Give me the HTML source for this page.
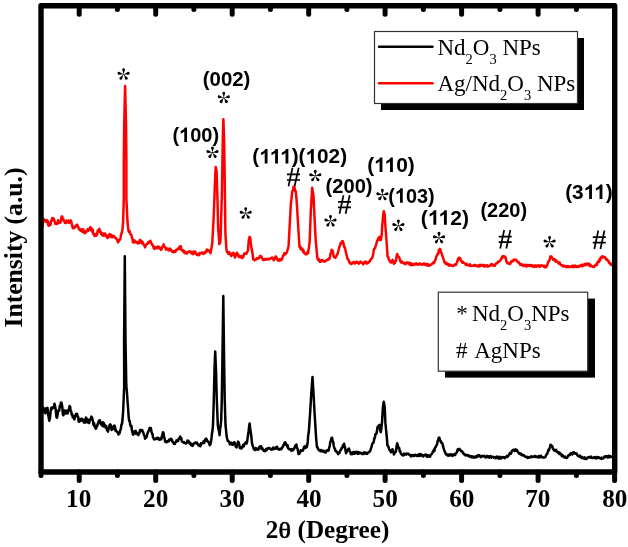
<!DOCTYPE html>
<html><head><meta charset="utf-8"><style>
html,body{margin:0;padding:0;background:#fff;}
body{width:628px;height:547px;overflow:hidden;}
svg{display:block;will-change:transform;}
</style></head><body>
<svg width="628" height="547" viewBox="0 0 628 547">
<rect width="628" height="547" fill="#fff"/>
<polyline points="41.5,219.0 42.2,228.0 42.9,219.4 43.4,218.6 44.0,220.3 44.5,219.9 45.0,220.8 45.5,221.6 46.1,222.0 46.7,220.0 47.2,222.2 47.7,221.0 48.2,225.4 48.8,223.9 49.3,225.8 49.9,223.1 50.5,224.8 51.0,221.0 51.6,221.0 52.2,218.0 52.7,218.6 53.2,220.0 53.8,218.6 54.3,220.8 54.8,222.1 55.4,223.8 56.0,223.1 56.5,223.7 57.0,224.2 57.5,223.3 58.1,220.2 58.6,221.5 59.2,223.0 59.9,222.6 60.5,222.5 61.1,219.6 61.6,216.4 62.2,216.5 62.8,219.4 63.3,218.9 63.9,221.2 64.4,221.5 65.0,223.0 65.5,222.2 66.1,222.9 66.6,220.5 67.2,220.8 67.8,222.1 68.4,220.6 68.9,222.7 69.5,222.5 70.1,220.8 70.6,220.3 71.2,221.7 71.7,223.4 72.2,225.8 72.8,228.3 73.3,226.6 73.9,228.0 74.4,228.0 75.0,226.5 75.6,226.7 76.1,225.5 76.7,224.7 77.3,224.7 77.8,226.1 78.3,227.0 78.9,229.3 79.4,228.7 80.0,229.6 80.5,230.8 81.0,230.6 81.6,229.4 82.2,231.8 82.7,230.9 83.3,229.4 83.8,232.6 84.4,231.6 85.0,233.2 85.5,232.8 86.0,231.3 86.6,230.8 87.1,231.3 87.7,229.0 88.2,231.1 88.7,229.4 89.3,229.5 89.9,228.1 90.4,227.1 91.0,230.0 91.6,228.4 92.2,231.8 92.8,229.8 93.3,234.0 93.9,234.1 94.5,235.9 95.0,234.3 95.5,234.4 96.1,235.8 96.6,234.4 97.1,234.7 97.7,230.5 98.2,231.6 98.8,230.1 99.4,228.9 99.9,232.1 100.5,231.2 101.0,233.9 101.6,233.0 102.2,235.1 102.8,233.6 103.3,235.7 103.9,233.4 104.5,234.4 105.1,233.6 105.7,236.2 106.2,234.9 106.8,236.2 107.4,238.0 108.0,237.1 108.5,237.2 109.1,235.0 109.6,234.0 110.2,235.1 110.8,236.6 111.4,234.7 111.9,237.2 112.5,237.2 113.1,235.9 113.7,235.9 114.3,236.6 114.8,237.2 115.4,238.1 116.0,238.0 116.5,239.1 117.0,239.6 117.5,240.6 118.0,242.4 118.5,241.6 119.0,240.7 119.5,239.6 120.0,239.7 120.5,238.0 121.0,235.1 121.5,233.3 122.0,232.0 122.5,228.9 123.1,222.0 123.8,199.0 123.8,160.0 124.2,124.0 125.1,86.0 126.0,124.0 126.4,160.0 126.4,199.0 127.5,222.0 128.0,226.6 128.5,231.0 129.0,232.1 129.6,230.9 130.1,233.3 130.6,234.5 131.4,235.1 131.9,237.8 132.4,238.3 132.9,242.3 133.5,242.5 134.0,242.5 134.6,240.4 135.1,242.2 135.7,241.6 136.3,241.8 136.9,242.7 137.4,242.0 138.0,243.4 138.6,243.0 139.2,243.2 139.7,240.3 140.2,239.9 140.8,240.8 141.3,241.9 141.9,243.4 142.4,241.6 142.9,243.0 143.4,243.9 144.0,245.4 144.6,245.7 145.1,247.3 145.6,246.0 146.1,244.9 146.7,244.2 147.2,243.7 147.8,243.5 148.3,242.0 148.8,241.7 149.4,241.6 149.9,242.8 150.4,240.8 151.0,242.9 151.5,243.0 152.1,245.0 152.6,244.9 153.1,245.9 153.7,248.0 154.3,248.9 154.8,247.2 155.4,247.1 155.9,247.8 156.5,248.0 157.1,248.4 157.7,246.5 158.2,247.0 158.8,246.9 159.4,247.3 159.9,248.8 160.4,248.2 161.0,249.9 161.5,249.4 162.1,247.2 162.6,246.4 163.1,246.1 163.7,244.4 164.2,246.8 164.8,246.8 165.3,247.3 165.8,249.4 166.4,248.3 166.9,249.5 167.4,248.5 168.0,249.4 168.6,250.3 169.2,250.4 169.7,248.5 170.3,248.8 170.9,249.4 171.5,250.9 172.0,251.0 172.6,252.0 173.1,251.3 173.7,252.3 174.3,250.9 174.9,250.9 175.4,251.9 176.0,250.0 176.6,250.2 177.1,249.3 177.6,249.0 178.1,248.6 178.7,248.1 179.2,249.2 179.7,246.4 180.2,247.0 180.8,246.2 181.3,249.6 181.9,250.0 182.4,251.0 183.0,250.2 183.6,250.6 184.2,252.6 184.7,253.1 185.3,251.7 185.9,253.0 186.5,253.4 187.1,253.4 187.6,252.6 188.2,251.9 188.8,251.6 189.3,251.3 189.8,251.8 190.3,251.8 190.9,251.6 191.4,253.3 191.9,252.8 192.4,253.7 193.0,254.1 193.5,251.6 194.1,253.5 194.6,252.6 195.2,251.6 195.8,253.5 196.4,254.1 196.9,254.8 197.5,254.7 198.1,255.2 198.7,253.5 199.3,255.0 199.8,253.0 200.4,252.9 201.0,253.0 201.5,253.3 202.0,252.8 202.5,252.4 203.0,252.5 203.5,253.9 204.0,253.2 204.5,252.6 205.0,253.2 205.6,251.3 206.2,251.8 206.8,249.6 207.4,249.8 208.1,251.0 208.7,250.5 209.3,251.0 209.9,251.5 210.5,253.2 211.1,249.7 211.7,246.9 212.3,242.3 213.8,214.8 215.1,178.3 215.7,167.0 216.6,171.0 217.4,196.6 218.2,229.5 218.8,235.6 219.3,244.1 219.9,243.2 220.5,240.4 221.8,196.6 222.3,170.0 222.8,140.0 223.4,119.3 224.1,140.0 224.6,170.0 224.9,196.0 225.4,233.1 226.4,248.9 226.9,251.4 227.4,252.3 227.9,252.7 228.5,253.9 229.2,252.0 229.8,253.7 230.4,254.7 231.1,255.9 231.7,255.6 232.3,253.5 232.8,253.1 233.4,252.7 233.9,253.7 234.5,256.0 235.0,257.5 235.6,255.7 236.3,254.2 236.9,252.7 237.5,254.9 238.2,254.3 238.8,257.0 239.4,256.0 240.0,256.3 240.6,256.5 241.2,257.5 241.8,256.1 242.5,258.0 243.1,256.5 243.6,256.5 244.1,253.6 244.6,253.7 245.2,253.7 245.9,253.2 246.5,253.7 247.2,251.7 247.9,250.8 248.4,244.6 248.9,239.3 249.6,236.9 250.3,238.4 250.8,243.2 251.3,247.0 252.0,251.0 252.7,254.6 253.2,259.4 253.9,259.5 254.6,260.3 255.2,259.3 255.9,259.3 256.5,259.4 257.1,258.0 257.8,258.6 258.4,258.0 259.0,258.2 259.6,257.0 260.2,255.8 260.8,256.5 261.4,256.6 262.0,257.9 262.6,259.3 263.2,259.9 263.8,260.2 264.5,259.0 265.1,258.9 265.7,259.7 266.3,259.4 266.8,259.0 267.4,259.0 268.0,259.4 268.6,259.1 269.2,259.4 269.8,258.5 270.4,258.4 271.0,258.6 271.7,257.7 272.3,257.5 273.0,258.3 273.7,260.3 274.3,259.1 275.0,258.2 275.6,256.5 276.2,256.7 276.9,258.9 277.5,260.3 278.1,259.8 278.8,260.6 279.4,259.4 279.9,260.4 280.5,259.1 281.1,260.3 281.6,259.4 282.2,258.9 282.8,256.5 283.3,255.8 283.9,254.7 284.4,253.2 284.9,254.5 285.4,253.6 286.0,253.7 286.5,252.9 287.0,251.6 287.5,250.0 288.1,248.2 288.6,245.4 289.6,226.7 290.9,203.3 291.4,199.4 292.0,193.3 292.5,190.9 293.0,190.3 293.5,186.7 294.0,187.8 294.5,187.3 295.1,191.1 295.6,190.9 296.1,194.6 296.6,200.5 297.1,208.0 298.7,234.5 299.5,246.9 300.1,246.3 300.6,249.2 301.2,247.8 301.8,249.3 302.3,248.6 302.8,251.6 303.4,250.2 303.9,252.8 304.4,253.0 304.9,253.2 305.4,254.1 305.9,254.4 306.4,253.4 307.0,254.0 307.5,252.0 308.0,253.2 308.5,250.3 309.1,246.0 309.6,242.3 310.8,211.1 312.2,187.8 312.9,192.6 313.5,195.6 314.6,218.9 315.8,242.3 316.3,246.3 316.9,253.3 317.4,257.8 318.0,259.8 318.5,258.7 319.1,260.3 319.7,261.7 320.2,261.5 320.8,261.8 321.3,260.1 321.8,260.4 322.4,260.0 323.1,260.6 323.7,261.5 324.2,261.6 324.8,261.7 325.3,260.7 325.9,260.7 326.4,260.2 326.9,260.1 327.5,259.8 328.0,260.0 328.5,259.4 329.0,258.3 329.5,258.9 330.1,256.2 330.6,253.4 331.1,252.9 331.7,249.8 332.2,250.3 332.8,251.2 333.4,254.8 333.9,257.1 334.4,256.6 335.0,257.8 335.5,257.5 336.0,257.0 336.5,255.6 337.2,254.6 337.9,252.7 338.4,250.8 338.9,248.7 339.4,246.8 340.1,245.2 340.8,242.8 341.4,243.5 341.9,241.7 342.4,241.1 342.9,241.4 343.4,243.2 343.9,245.4 344.4,247.4 344.9,247.6 345.6,250.9 346.3,254.1 346.8,255.7 347.3,258.1 347.8,259.3 348.4,259.8 349.0,261.2 349.6,262.9 350.2,262.6 350.9,263.8 351.5,264.0 352.2,262.9 352.9,262.6 353.4,262.0 354.0,263.0 354.6,263.6 355.1,262.6 355.7,262.0 356.2,262.7 356.8,261.8 357.3,261.8 357.8,263.2 358.3,263.2 358.8,263.7 359.4,262.8 359.9,262.3 360.4,261.5 361.0,262.2 361.6,262.7 362.1,263.0 362.6,263.2 363.2,264.4 363.8,263.2 364.4,262.3 365.0,261.8 365.5,262.7 366.0,261.6 366.6,263.7 367.1,262.9 367.6,263.2 368.1,262.8 368.7,261.8 369.2,262.0 369.8,261.3 370.3,259.9 370.9,259.4 371.6,258.5 372.2,257.9 372.7,256.2 373.2,254.3 373.7,250.7 374.2,248.7 374.7,248.4 375.2,248.1 375.7,245.6 376.2,244.7 376.7,242.2 377.2,240.6 377.7,240.6 378.2,238.2 378.9,238.1 379.5,236.8 380.1,240.0 380.8,240.1 381.3,237.8 381.8,232.9 382.3,225.2 382.8,219.7 383.3,214.1 383.8,211.2 384.7,214.5 385.4,226.3 386.0,234.0 386.7,243.4 387.6,256.6 388.2,256.9 388.7,259.3 389.3,259.9 389.8,261.4 390.3,262.1 390.8,261.3 391.3,262.5 392.0,262.0 392.6,259.9 393.2,261.4 393.9,263.8 394.4,263.0 394.9,263.0 395.4,260.9 395.9,261.2 396.5,256.6 397.2,254.0 397.9,256.2 398.6,256.6 399.2,257.4 399.7,258.9 400.2,260.8 400.8,261.9 401.3,262.6 401.9,261.4 402.4,262.3 402.9,262.8 403.5,263.2 404.0,263.5 404.5,262.8 405.0,263.5 405.5,264.3 406.1,263.0 406.6,263.2 407.1,262.3 407.6,263.0 408.2,262.7 408.7,263.7 409.2,262.7 409.8,264.6 410.4,264.8 410.9,263.3 411.4,265.2 412.0,264.5 412.5,264.1 413.1,264.9 413.6,264.8 414.1,263.7 414.7,264.4 415.2,264.3 415.7,264.5 416.3,263.3 416.8,263.7 417.3,264.3 417.9,264.9 418.4,264.4 418.9,264.2 419.5,263.4 420.0,264.3 420.5,264.3 421.1,264.0 421.6,264.7 422.1,264.6 422.7,264.4 423.2,263.6 423.8,264.5 424.3,264.5 424.8,263.5 425.4,265.0 425.9,264.2 426.4,264.7 427.0,263.9 427.5,265.7 428.0,264.3 428.6,264.9 429.1,265.5 429.6,265.7 430.1,265.2 430.6,264.8 431.1,264.8 431.7,264.1 432.2,263.6 432.7,263.0 433.2,262.5 433.7,263.2 434.2,262.5 434.7,261.5 435.2,259.9 435.7,259.2 436.2,257.1 436.7,255.8 437.2,255.2 437.7,253.6 438.3,253.7 438.8,250.1 439.4,250.1 439.9,248.8 440.4,249.5 440.9,252.5 441.4,252.8 441.9,254.2 442.4,256.1 443.0,257.5 443.6,259.4 444.2,261.5 444.8,262.5 445.3,262.6 445.9,264.0 446.4,262.9 446.9,263.6 447.5,263.7 448.0,264.9 448.6,264.2 449.1,265.7 449.7,265.7 450.2,264.7 450.8,264.8 451.3,265.4 451.9,265.7 452.4,266.1 452.9,266.1 453.4,265.9 453.9,265.5 454.4,264.5 454.9,264.9 455.4,264.4 455.9,264.9 456.4,263.7 457.0,262.5 457.5,261.0 458.0,259.2 458.6,258.2 459.1,257.7 459.7,259.2 460.3,258.2 460.9,260.8 461.5,260.9 462.0,262.2 462.6,262.7 463.1,261.8 463.6,262.6 464.2,263.1 464.7,263.3 465.2,263.9 465.8,264.8 466.3,264.5 466.8,263.9 467.4,265.4 467.9,264.9 468.5,265.0 469.0,265.3 469.6,265.7 470.1,264.3 470.7,266.0 471.2,265.9 471.8,265.7 472.3,265.7 472.9,265.7 473.4,265.6 473.9,265.1 474.5,265.8 475.0,264.8 475.5,265.7 476.1,266.0 476.6,265.7 477.1,265.6 477.7,265.8 478.2,266.6 478.7,266.5 479.3,265.0 479.8,266.3 480.3,265.9 480.9,264.8 481.4,265.7 481.9,265.4 482.5,265.2 483.0,264.8 483.5,265.8 484.1,266.6 484.6,265.3 485.1,266.4 485.7,266.1 486.2,265.7 486.7,265.0 487.3,266.4 487.8,265.9 488.3,266.6 488.9,266.1 489.4,265.7 490.0,265.8 490.6,264.6 491.2,265.1 491.8,264.1 492.3,265.3 492.8,265.4 493.4,264.8 493.9,265.7 494.4,265.4 494.9,265.7 495.5,264.3 496.1,263.5 496.7,263.0 497.3,263.3 497.8,262.1 498.4,261.5 498.9,261.7 499.4,261.6 500.0,260.7 500.5,260.1 501.1,258.9 501.7,258.5 502.3,256.6 502.9,256.1 503.5,256.2 504.1,257.1 504.7,256.5 505.3,256.9 505.8,258.0 506.4,261.5 506.9,262.5 507.4,263.2 508.0,262.7 508.5,263.0 509.0,263.6 509.6,264.0 510.1,264.1 510.7,262.7 511.3,261.4 511.9,261.1 512.5,260.9 513.0,261.4 513.5,259.8 514.0,260.4 514.6,259.7 515.1,259.6 515.6,260.1 516.2,259.9 516.8,261.1 517.4,261.2 518.0,262.5 518.6,262.1 519.2,262.9 519.8,263.6 520.4,264.9 520.9,265.0 521.4,264.2 521.9,264.2 522.4,265.2 522.9,265.2 523.4,265.9 523.9,264.7 524.4,265.7 524.9,265.5 525.5,265.5 526.0,264.7 526.5,266.6 527.1,265.1 527.6,264.9 528.1,265.6 528.7,265.0 529.2,265.7 529.7,266.0 530.3,265.5 530.8,265.1 531.4,265.0 531.9,266.4 532.5,265.5 533.0,266.0 533.5,266.6 534.0,265.9 534.5,266.9 535.0,265.6 535.5,265.5 536.0,265.5 536.5,266.6 537.0,266.0 537.5,266.3 538.0,265.7 538.5,265.2 539.0,266.4 539.5,266.9 540.0,266.0 540.5,266.3 541.1,265.2 541.6,265.4 542.2,265.6 542.7,265.8 543.3,265.7 543.8,266.7 544.3,265.8 544.8,267.0 545.4,267.5 545.9,266.1 546.4,266.7 547.0,266.0 547.7,263.3 548.3,261.6 548.8,261.3 549.3,260.5 549.8,259.6 550.3,256.4 550.8,256.5 551.5,256.6 552.1,257.7 552.7,258.6 553.4,260.0 554.0,259.6 554.5,259.0 555.0,259.9 555.6,261.6 556.1,260.3 556.6,261.6 557.1,261.6 557.6,261.7 558.1,262.7 558.6,263.5 559.1,262.8 559.6,262.5 560.2,264.2 560.7,264.6 561.2,265.2 561.8,265.1 562.3,265.4 562.9,266.5 563.6,265.5 564.2,266.0 564.9,266.2 565.5,266.7 566.0,266.2 566.5,267.3 567.1,266.7 567.6,266.2 568.1,266.0 568.6,267.1 569.2,266.9 569.7,267.1 570.2,266.5 570.8,266.7 571.3,266.0 571.8,266.7 572.3,267.1 572.9,265.6 573.4,266.5 573.9,267.0 574.5,266.8 575.0,265.5 575.5,265.8 576.1,266.9 576.6,266.5 577.1,266.9 577.7,266.8 578.2,266.0 578.7,265.8 579.2,266.7 579.7,266.3 580.2,265.4 580.8,265.4 581.3,264.8 581.8,265.4 582.3,266.4 582.8,264.7 583.3,265.4 583.8,265.4 584.3,264.3 584.8,264.1 585.3,265.1 585.8,264.1 586.3,263.6 586.8,263.7 587.3,264.5 587.8,264.1 588.3,264.5 588.8,263.6 589.3,264.3 589.8,266.1 590.3,265.4 590.8,265.1 591.4,266.0 591.9,265.9 592.4,266.8 593.0,266.7 593.5,266.7 594.0,267.0 594.5,266.3 595.0,265.3 595.5,265.0 596.0,265.4 596.5,263.8 597.0,264.6 597.6,262.3 598.1,261.3 598.6,261.6 599.1,261.9 599.6,259.3 600.1,260.2 600.6,257.5 601.1,257.7 601.6,257.3 602.1,256.4 602.6,257.6 603.1,256.5 603.7,257.0 604.4,257.3 605.0,257.1 605.5,258.4 606.0,259.3 606.5,258.7 607.0,259.9 607.5,260.3 608.0,260.8 608.5,260.7 609.1,263.0 609.6,263.1 610.1,263.5 610.6,264.6 611.1,263.7 611.7,264.8 612.2,265.1 612.7,266.0 613.2,266.0" fill="none" stroke="#ff0000" stroke-width="2.5" stroke-linejoin="round" stroke-linecap="round"/>
<polyline points="41.4,410.1 42.0,410.2 42.5,410.3 43.0,410.0 43.6,407.9 44.1,411.3 44.7,411.3 45.2,413.3 45.7,412.2 46.3,408.3 46.9,409.2 47.5,407.9 48.1,414.4 48.7,417.2 49.3,420.8 50.0,417.7 50.7,410.8 51.2,408.1 51.8,409.2 52.4,407.3 52.9,407.9 53.4,407.6 54.0,407.2 54.5,403.8 55.0,405.8 55.5,408.2 56.0,412.4 56.5,417.3 57.0,417.7 57.5,415.4 58.1,410.7 58.6,410.8 59.2,410.8 59.8,405.8 60.3,406.7 60.9,402.5 61.5,402.9 62.2,406.1 62.9,414.4 63.4,415.3 64.0,411.1 64.5,410.3 65.1,410.8 65.6,413.6 66.2,413.4 66.7,410.8 67.2,412.2 67.8,413.4 68.4,410.1 68.9,409.7 69.5,406.1 70.1,406.5 70.6,410.8 71.2,411.4 71.7,414.8 72.2,414.4 72.8,417.5 73.3,415.9 73.9,417.5 74.4,419.4 74.9,416.7 75.4,415.4 76.0,413.9 76.5,413.9 77.0,413.7 77.6,416.8 78.1,416.7 78.7,421.6 79.3,421.8 79.9,419.7 80.4,419.0 81.0,420.7 81.6,418.7 82.2,419.3 82.7,419.3 83.3,420.8 83.8,422.5 84.4,422.3 85.0,419.4 85.5,422.6 86.0,417.4 86.6,418.7 87.1,420.9 87.7,422.4 88.2,419.8 88.7,423.0 89.2,423.0 89.8,419.9 90.4,419.6 90.9,418.0 91.4,416.6 92.0,417.7 92.5,419.3 93.0,421.6 93.5,425.0 94.1,423.2 94.7,426.9 95.2,427.3 95.7,428.7 96.2,428.4 96.8,425.6 97.3,425.9 97.8,423.6 98.3,422.6 98.8,420.8 99.4,422.6 99.9,420.2 100.5,423.6 101.0,424.4 101.6,423.7 102.1,425.5 102.7,422.3 103.2,426.4 103.8,423.1 104.3,424.4 104.8,425.8 105.4,427.4 105.9,425.9 106.4,426.7 107.0,430.4 107.5,430.3 108.0,431.6 108.5,429.1 109.1,427.3 109.7,424.9 110.2,424.4 110.9,425.5 111.6,430.0 112.1,427.6 112.7,428.7 113.2,428.9 113.8,425.9 114.3,425.6 114.9,426.2 115.5,430.9 116.0,430.1 116.6,431.3 117.2,432.0 117.8,432.5 118.4,434.5 118.9,433.7 119.5,433.5 120.0,431.0 120.5,430.0 121.0,427.7 121.5,424.2 122.0,424.0 122.6,419.0 123.2,410.0 124.2,386.0 124.1,340.0 124.8,256.2 125.5,340.0 126.3,386.0 126.9,391.6 127.6,402.0 128.2,410.0 128.7,417.1 129.2,421.0 129.8,421.4 130.3,425.0 130.9,426.4 131.4,425.8 131.9,430.4 132.4,432.0 132.9,434.4 133.4,434.7 133.9,431.5 134.5,432.0 135.0,431.5 135.6,430.8 136.2,433.9 136.7,432.5 137.3,433.7 137.9,434.4 138.4,435.1 138.9,433.5 139.5,433.0 140.0,430.1 140.6,429.9 141.1,430.1 141.6,431.0 142.2,430.1 142.8,431.7 143.4,432.8 143.9,434.9 144.5,435.8 145.1,438.7 145.7,437.0 146.2,437.8 146.8,436.4 147.3,434.0 147.9,432.2 148.5,431.3 149.1,429.9 149.6,428.0 150.2,427.9 150.8,427.9 151.4,431.1 152.0,433.6 152.5,433.9 153.1,437.5 153.7,438.7 154.3,439.5 154.8,439.1 155.4,438.8 155.9,439.0 156.5,438.0 157.0,437.7 157.6,439.0 158.1,437.8 158.7,438.7 159.2,439.7 159.7,439.7 160.3,438.6 160.8,439.4 161.4,439.1 161.9,436.3 162.4,434.3 163.0,432.2 163.5,432.8 164.1,437.1 164.6,438.5 165.1,441.6 165.7,442.0 166.3,441.2 166.8,442.2 167.4,441.5 168.0,440.9 168.6,441.4 169.2,439.5 169.7,440.0 170.3,439.9 170.9,438.7 171.4,440.4 171.9,439.5 172.4,441.6 172.9,442.3 173.4,442.3 173.9,443.8 174.4,443.0 174.9,444.0 175.4,442.3 176.0,441.9 176.5,440.4 177.0,441.0 177.5,441.3 178.1,440.9 178.6,438.7 179.1,438.6 179.7,438.0 180.2,436.5 180.7,438.5 181.2,438.0 181.8,441.2 182.3,441.6 182.9,442.1 183.5,442.7 184.0,442.2 184.6,443.1 185.2,443.0 185.8,443.5 186.3,442.8 186.9,442.8 187.4,440.4 188.0,441.6 188.6,441.1 189.1,442.5 189.7,443.7 190.2,442.9 190.8,444.8 191.3,445.2 191.8,444.1 192.4,445.9 192.9,445.4 193.4,444.3 193.9,443.4 194.4,443.2 194.9,443.3 195.4,442.5 195.9,443.0 196.4,442.5 196.9,442.5 197.4,444.1 198.0,444.3 198.5,445.4 199.0,445.7 199.5,445.9 200.0,444.8 200.5,446.2 201.0,443.2 201.5,444.0 202.0,443.2 202.5,443.2 203.0,443.0 203.5,441.3 204.1,443.0 204.6,441.1 205.1,439.5 205.6,440.8 206.2,438.6 206.7,439.4 207.3,440.7 207.9,441.7 208.5,441.9 209.1,443.3 209.7,445.1 210.3,444.4 210.9,442.2 211.5,438.0 212.0,433.4 212.5,430.5 213.0,425.0 213.8,400.0 214.5,370.0 215.2,351.5 216.0,370.0 216.8,400.0 217.8,425.0 218.4,429.0 219.0,431.3 219.6,435.2 220.1,428.8 220.7,425.5 221.2,420.0 221.8,399.0 222.4,360.0 223.3,296.1 224.1,360.0 224.7,399.0 225.5,425.0 226.0,429.6 226.5,435.3 227.0,438.0 227.6,440.7 228.2,440.8 228.8,441.7 229.4,442.0 229.9,444.4 230.5,444.0 231.1,442.7 231.7,443.2 232.2,444.7 232.8,444.7 233.4,444.3 234.0,442.2 234.6,442.6 235.2,444.6 235.9,446.9 236.5,447.4 237.0,445.1 237.6,443.3 238.1,441.6 238.7,442.5 239.2,444.4 239.8,447.9 240.4,448.3 240.9,447.4 241.5,448.4 242.0,447.8 242.6,446.4 243.1,444.9 243.7,446.4 244.2,444.5 244.8,443.9 245.4,443.1 245.9,442.2 246.5,443.6 247.1,441.6 247.8,436.8 248.5,432.0 249.1,426.8 249.6,423.4 250.1,427.6 250.7,432.0 251.3,436.0 251.9,442.6 252.5,445.2 253.2,446.9 253.8,449.3 254.3,448.8 254.9,450.0 255.4,450.1 256.0,448.1 256.5,449.4 257.1,448.7 257.6,449.3 258.2,449.8 258.8,448.9 259.3,446.9 259.9,446.4 260.5,446.4 261.1,446.2 261.6,449.1 262.2,447.9 262.7,449.4 263.3,449.8 263.8,450.9 264.4,451.2 264.9,451.0 265.5,451.0 266.0,449.0 266.6,450.2 267.1,448.6 267.7,448.8 268.2,448.3 268.7,448.0 269.3,448.1 269.8,448.8 270.4,448.8 270.9,448.7 271.5,449.8 272.0,449.3 272.6,449.3 273.1,447.6 273.7,447.8 274.2,448.1 274.8,449.0 275.3,448.7 275.9,447.4 276.4,447.8 277.0,446.7 277.5,448.9 278.1,448.3 278.6,449.0 279.2,449.6 279.7,449.3 280.3,449.3 280.9,448.5 281.4,449.2 282.0,447.5 282.6,447.4 283.2,445.5 283.9,445.2 284.5,442.6 285.1,442.3 285.8,443.3 286.4,444.5 287.0,446.4 287.6,445.2 288.1,448.3 288.7,448.8 289.3,449.3 289.9,449.3 290.4,449.0 291.0,450.4 291.5,450.8 292.1,449.1 292.6,450.0 293.2,450.2 293.7,449.4 294.3,448.3 294.8,446.9 295.3,445.5 295.9,445.7 296.4,444.5 296.9,447.7 297.4,448.2 298.0,451.1 298.5,454.1 299.1,454.1 299.6,453.4 300.2,452.4 300.7,450.2 301.3,450.7 301.9,450.7 302.4,450.8 303.0,450.3 303.5,449.0 304.1,446.8 304.6,447.4 305.1,448.0 305.6,446.0 306.1,446.8 306.6,447.4 307.1,445.8 307.7,441.9 308.2,435.4 308.8,432.0 310.3,410.0 311.2,395.0 311.9,384.9 312.5,376.9 313.6,395.0 314.4,410.0 315.6,430.0 316.3,440.1 317.0,447.4 317.6,447.3 318.2,449.3 318.8,449.7 319.4,450.7 319.9,450.0 320.5,451.3 321.0,450.0 321.6,450.3 322.1,451.1 322.7,451.5 323.2,450.7 323.8,450.8 324.3,452.2 324.8,452.2 325.4,452.5 325.9,452.5 326.5,450.5 327.0,450.9 327.6,450.3 328.1,450.7 328.7,450.2 329.2,447.6 329.7,446.4 330.2,442.6 330.8,440.6 331.5,438.0 332.1,437.8 332.7,441.0 333.2,442.0 333.8,446.0 334.4,448.3 335.0,449.1 335.5,451.0 336.1,450.9 336.6,451.9 337.2,451.9 337.7,453.4 338.3,454.1 338.8,452.7 339.4,453.0 339.9,451.7 340.5,449.9 341.0,450.0 341.5,448.3 342.0,447.6 342.6,447.5 343.1,444.9 343.6,445.4 344.1,443.7 344.6,446.5 345.1,447.4 345.6,451.2 346.1,453.2 346.7,451.3 347.3,450.4 347.8,450.6 348.4,448.8 349.0,448.5 349.6,451.3 350.3,452.1 350.9,454.0 351.4,453.4 352.0,454.3 352.5,452.4 353.0,453.8 353.6,452.1 354.1,452.1 354.6,453.8 355.2,453.0 355.7,452.4 356.2,451.9 356.8,451.7 357.3,453.8 357.8,453.1 358.4,453.6 358.9,452.1 359.4,453.3 360.0,452.8 360.5,453.2 361.0,452.8 361.5,453.1 362.0,453.9 362.5,453.5 363.0,454.0 363.5,453.4 364.0,452.4 364.5,453.6 365.0,452.5 365.5,453.0 366.0,453.5 366.6,452.8 367.1,453.9 367.6,453.2 368.1,452.7 368.7,452.3 369.2,451.8 369.8,451.6 370.3,450.5 371.0,448.3 371.6,446.6 372.1,444.5 372.6,443.3 373.1,442.7 373.6,442.6 374.2,438.5 374.7,438.6 375.3,434.7 375.8,433.8 376.3,433.9 376.8,432.1 377.5,427.2 378.2,426.2 378.9,425.4 379.5,424.9 380.1,430.0 380.8,432.1 381.5,427.3 382.1,421.6 382.8,408.4 383.7,401.8 384.2,404.1 384.7,407.1 385.4,422.9 385.9,428.0 386.4,433.4 386.9,438.1 387.4,445.3 388.0,445.9 388.7,447.5 389.3,449.9 389.8,450.1 390.3,450.6 390.8,452.2 391.3,451.8 392.0,449.7 392.6,449.2 393.2,451.3 393.9,454.5 394.4,453.3 394.9,452.4 395.4,452.0 395.9,451.8 396.5,446.8 397.2,443.3 397.9,445.6 398.6,447.9 399.2,447.9 399.7,451.2 400.2,451.0 400.8,453.5 401.3,454.1 401.9,454.8 402.4,455.1 403.0,454.6 403.5,455.5 404.0,453.6 404.6,454.7 405.1,453.8 405.6,454.6 406.2,454.6 406.7,454.0 407.2,453.5 407.8,453.9 408.4,453.7 408.9,454.4 409.4,454.4 410.0,455.5 410.5,455.3 411.0,456.5 411.5,455.2 412.0,455.1 412.6,455.5 413.1,455.1 413.6,456.1 414.1,456.0 414.6,455.6 415.2,454.8 415.7,454.8 416.3,455.6 416.9,456.0 417.4,455.2 418.0,454.8 418.5,454.7 419.0,456.0 419.5,454.0 420.0,454.2 420.6,455.8 421.1,455.1 421.6,454.5 422.1,455.6 422.6,455.6 423.2,456.5 423.8,455.4 424.4,455.0 425.0,455.2 425.5,454.5 426.0,454.6 426.5,456.5 427.0,455.8 427.5,456.9 428.0,455.2 428.5,455.8 429.0,455.6 429.5,456.4 430.0,456.8 430.6,455.1 431.1,454.6 431.7,454.1 432.3,453.0 432.8,451.6 433.4,451.8 433.9,449.6 434.5,450.7 435.0,447.6 435.6,447.4 436.1,445.9 436.7,445.1 437.2,443.7 437.7,440.8 438.2,440.0 438.7,437.8 439.2,437.6 439.7,438.7 440.2,440.9 440.7,440.9 441.2,442.7 441.7,442.6 442.2,443.3 442.7,444.3 443.2,447.2 443.7,448.6 444.2,450.1 444.8,451.7 445.3,452.6 445.9,454.3 446.4,454.7 446.9,455.0 447.5,455.5 448.0,454.3 448.5,454.8 449.1,455.7 449.6,454.5 450.1,455.2 450.6,454.4 451.1,454.8 451.6,454.3 452.1,455.8 452.6,455.9 453.1,454.8 453.6,454.4 454.1,454.3 454.6,454.7 455.1,455.2 455.7,453.3 456.2,453.1 456.8,452.4 457.3,450.7 457.8,449.2 458.4,449.3 458.9,450.1 459.4,448.9 460.0,449.6 460.5,450.1 461.0,451.0 461.6,451.3 462.1,451.2 462.6,452.5 463.2,452.8 463.8,454.3 464.3,454.3 464.8,454.5 465.4,455.4 465.9,455.0 466.4,455.3 466.9,455.0 467.4,454.9 468.0,455.8 468.5,455.2 469.0,455.8 469.5,456.6 470.0,456.4 470.5,456.6 471.0,456.0 471.5,457.3 472.0,456.7 472.5,456.5 473.0,456.6 473.5,457.7 474.0,456.9 474.6,456.9 475.1,457.5 475.7,456.6 476.2,456.0 476.7,457.2 477.3,456.6 477.8,455.4 478.4,455.2 478.9,456.0 479.4,455.3 479.9,455.8 480.5,456.9 481.0,457.2 481.5,456.6 482.0,455.9 482.6,456.3 483.1,456.3 483.6,456.3 484.1,455.7 484.7,456.9 485.2,456.8 485.7,457.5 486.2,457.3 486.7,456.0 487.3,456.9 487.8,456.1 488.3,457.2 488.8,456.7 489.3,457.7 489.8,457.4 490.4,456.0 490.9,456.4 491.4,457.6 491.9,456.8 492.4,456.8 492.9,456.8 493.4,456.9 494.0,457.6 494.5,458.0 495.0,457.3 495.5,458.2 496.0,457.5 496.5,456.6 497.1,458.1 497.6,457.4 498.1,456.7 498.6,457.7 499.1,458.7 499.6,456.8 500.1,457.9 500.7,457.7 501.2,458.5 501.7,457.5 502.2,457.1 502.7,457.3 503.2,457.1 503.8,457.8 504.3,457.4 504.8,458.2 505.3,457.7 505.8,456.8 506.3,456.6 506.8,455.9 507.3,457.0 507.8,456.3 508.3,455.9 508.8,455.0 509.3,454.1 509.8,453.1 510.3,453.5 510.9,453.7 511.4,452.3 512.0,450.7 512.5,450.4 513.1,449.7 513.6,450.1 514.2,450.6 514.7,451.1 515.3,449.4 515.9,450.8 516.4,449.7 517.0,450.1 517.5,451.2 518.1,452.4 518.6,452.5 519.2,453.6 519.8,453.3 520.3,454.3 520.8,453.5 521.3,454.8 521.8,455.2 522.3,454.6 522.8,455.3 523.3,455.4 523.8,455.1 524.3,455.9 524.8,456.3 525.3,456.8 525.8,456.8 526.4,457.3 526.9,456.7 527.5,457.9 528.0,457.0 528.5,457.6 529.0,457.7 529.5,457.2 530.0,457.1 530.5,456.8 531.0,457.2 531.5,456.3 532.0,456.5 532.6,456.8 533.1,457.0 533.7,456.8 534.2,456.4 534.8,456.0 535.3,456.1 535.9,457.0 536.4,456.6 536.9,457.0 537.4,457.3 538.0,457.2 538.5,456.3 539.0,457.5 539.5,456.1 540.0,456.5 540.5,457.0 541.0,455.7 541.5,457.1 542.0,457.0 542.5,457.6 543.0,457.6 543.5,457.2 544.0,457.5 544.5,457.4 545.0,457.2 545.5,457.0 546.1,455.0 546.7,454.2 547.3,453.7 547.9,451.4 548.4,449.7 548.9,450.5 549.5,448.3 550.0,446.8 550.5,444.7 551.0,445.0 551.6,445.7 552.2,446.1 552.8,448.4 553.4,449.0 553.9,450.4 554.5,450.7 555.0,450.3 555.5,450.1 556.1,449.8 556.6,451.6 557.1,451.6 557.7,452.4 558.2,452.2 558.7,452.4 559.3,454.0 559.8,452.9 560.3,453.5 560.9,453.9 561.4,455.1 561.9,456.2 562.5,455.1 563.0,456.2 563.5,456.7 564.1,457.3 564.6,456.4 565.1,456.4 565.7,457.7 566.2,457.8 566.7,458.0 567.2,457.6 567.7,456.8 568.2,455.6 568.7,455.1 569.2,454.9 569.7,455.2 570.2,453.8 570.7,453.3 571.3,453.1 571.8,453.8 572.3,454.5 572.9,452.7 573.4,452.2 573.9,452.3 574.5,453.2 575.0,453.0 575.6,453.7 576.1,453.2 576.7,453.7 577.2,455.0 577.8,455.6 578.3,456.1 578.9,456.2 579.4,456.8 579.9,455.6 580.4,456.7 581.0,457.5 581.5,457.9 582.0,456.8 582.5,458.0 583.0,457.5 583.6,457.9 584.1,458.7 584.7,457.4 585.2,458.5 585.8,459.0 586.3,458.4 586.9,458.6 587.4,457.6 587.9,457.6 588.5,457.4 589.0,457.1 589.5,457.0 590.0,457.5 590.5,457.7 591.1,456.6 591.6,457.8 592.1,457.8 592.7,457.9 593.2,457.8 593.7,457.5 594.3,457.9 594.8,457.0 595.3,458.1 595.9,457.6 596.4,458.4 596.9,456.9 597.5,457.0 598.0,458.0 598.5,457.2 599.1,457.5 599.6,457.9 600.1,458.2 600.7,458.7 601.2,458.9 601.7,457.6 602.3,458.3 602.8,458.6 603.3,458.3 603.9,457.6 604.4,456.6 604.9,457.2 605.5,456.3 606.0,456.2 606.5,456.6 607.0,456.3 607.5,457.4 608.0,457.4 608.5,455.7 609.1,457.2 609.6,457.2 610.1,456.4 610.6,456.1 611.1,456.9 611.6,457.0" fill="none" stroke="#000" stroke-width="2.5" stroke-linejoin="round" stroke-linecap="round"/>
<rect x="41.0" y="5.7" width="573.7" height="466.3" fill="none" stroke="#000" stroke-width="5.4" stroke-linejoin="round"/>
<path d="M41.0,472.0 V475.5 M79.2,472.0 V480.5 M79.2,5.7 V14.2 M117.4,472.0 V475.5 M117.4,5.7 V9.5 M155.7,472.0 V480.5 M155.7,5.7 V14.2 M193.9,472.0 V475.5 M193.9,5.7 V9.5 M232.2,472.0 V480.5 M232.2,5.7 V14.2 M270.4,472.0 V475.5 M270.4,5.7 V9.5 M308.7,472.0 V480.5 M308.7,5.7 V14.2 M346.9,472.0 V475.5 M346.9,5.7 V9.5 M385.1,472.0 V480.5 M385.1,5.7 V14.2 M423.4,472.0 V475.5 M423.4,5.7 V9.5 M461.6,472.0 V480.5 M461.6,5.7 V14.2 M499.9,472.0 V475.5 M499.9,5.7 V9.5 M538.1,472.0 V480.5 M538.1,5.7 V14.2 M576.4,472.0 V475.5 M576.4,5.7 V9.5 M614.6,472.0 V480.5" stroke="#000" stroke-width="5" stroke-linecap="round" fill="none"/>
<rect x="381" y="38" width="203" height="72" fill="#000"/>
<rect x="374.5" y="31.5" width="203" height="72" fill="#fff" stroke="#333" stroke-width="1.2"/>
<line x1="379" y1="46.8" x2="432.5" y2="46.8" stroke="#000" stroke-width="2.5" stroke-linecap="round"/>
<line x1="379" y1="83.3" x2="432.5" y2="83.3" stroke="#ff0000" stroke-width="2.5" stroke-linecap="round"/>
<rect x="445" y="298.6" width="150" height="79" fill="#000"/>
<rect x="438.3" y="292.2" width="149.4" height="79" fill="#fff" stroke="#333" stroke-width="1.2"/>
<text x="437.50" y="54.5" font-family="Liberation Serif" font-size="23" fill="#000" xml:space="preserve">Nd</text><text x="465.61" y="63.5" font-family="Liberation Serif" font-size="14.5" fill="#000" xml:space="preserve">2</text><text x="472.86" y="54.5" font-family="Liberation Serif" font-size="23" fill="#000" xml:space="preserve">O</text><text x="489.47" y="63.5" font-family="Liberation Serif" font-size="14.5" fill="#000" xml:space="preserve">3</text><text x="496.72" y="54.5" font-family="Liberation Serif" font-size="23" fill="#000" xml:space="preserve"> NPs</text>
<text x="437.50" y="90.5" font-family="Liberation Serif" font-size="23" fill="#000" xml:space="preserve">Ag/Nd</text><text x="500.11" y="99.5" font-family="Liberation Serif" font-size="14.5" fill="#000" xml:space="preserve">2</text><text x="507.36" y="90.5" font-family="Liberation Serif" font-size="23" fill="#000" xml:space="preserve">O</text><text x="523.97" y="99.5" font-family="Liberation Serif" font-size="14.5" fill="#000" xml:space="preserve">3</text><text x="531.22" y="90.5" font-family="Liberation Serif" font-size="23" fill="#000" xml:space="preserve"> NPs</text>
<text x="456.20" y="321.1" font-family="Liberation Serif" font-size="23" fill="#000" xml:space="preserve">*</text>
<text x="472.00" y="321.1" font-family="Liberation Serif" font-size="23" fill="#000" xml:space="preserve">Nd</text><text x="500.11" y="330.1" font-family="Liberation Serif" font-size="14.5" fill="#000" xml:space="preserve">2</text><text x="507.36" y="321.1" font-family="Liberation Serif" font-size="23" fill="#000" xml:space="preserve">O</text><text x="523.97" y="330.1" font-family="Liberation Serif" font-size="14.5" fill="#000" xml:space="preserve">3</text><text x="531.22" y="321.1" font-family="Liberation Serif" font-size="23" fill="#000" xml:space="preserve">NPs</text>
<text x="456.00" y="358" font-family="Liberation Serif" font-size="23" fill="#000" xml:space="preserve">#</text>
<text x="474.20" y="358" font-family="Liberation Serif" font-size="23" fill="#000" xml:space="preserve">AgNPs</text>
<text transform="translate(202.78,85.99) scale(1.0100785863339699,1)" font-family="Liberation Sans" font-weight="700" font-size="20.2" fill="#000" >(002)</text>
<g transform="translate(172.40,141.99) scale(0.2000,0.2020)" fill="#000"><text x="0.00" y="0" font-family="Liberation Sans" font-weight="700" font-size="100">(</text><path transform="translate(33.30,0) scale(1,-1)" d="M39.8,0 H26.1 V51.9 C21.1,47.2 15.2,43.7 8.4,41.4 V53.9 C12,55.1 15.9,57.3 20.1,60.6 C24.3,63.9 27.2,67.7 28.7,71.6 H39.8 Z"/><text x="88.91" y="0" font-family="Liberation Sans" font-weight="700" font-size="100">0</text><text x="144.52" y="0" font-family="Liberation Sans" font-weight="700" font-size="100">0</text><text x="200.12" y="0" font-family="Liberation Sans" font-weight="700" font-size="100">)</text></g>
<g transform="translate(252.36,163.39) scale(0.2078,0.2020)" fill="#000"><text x="0.00" y="0" font-family="Liberation Sans" font-weight="700" font-size="100">(</text><path transform="translate(33.30,0) scale(1,-1)" d="M39.8,0 H26.1 V51.9 C21.1,47.2 15.2,43.7 8.4,41.4 V53.9 C12,55.1 15.9,57.3 20.1,60.6 C24.3,63.9 27.2,67.7 28.7,71.6 H39.8 Z"/><path transform="translate(83.39,0) scale(1,-1)" d="M39.8,0 H26.1 V51.9 C21.1,47.2 15.2,43.7 8.4,41.4 V53.9 C12,55.1 15.9,57.3 20.1,60.6 C24.3,63.9 27.2,67.7 28.7,71.6 H39.8 Z"/><path transform="translate(133.48,0) scale(1,-1)" d="M39.8,0 H26.1 V51.9 C21.1,47.2 15.2,43.7 8.4,41.4 V53.9 C12,55.1 15.9,57.3 20.1,60.6 C24.3,63.9 27.2,67.7 28.7,71.6 H39.8 Z"/><text x="189.09" y="0" font-family="Liberation Sans" font-weight="700" font-size="100">)</text><text x="222.39" y="0" font-family="Liberation Sans" font-weight="700" font-size="100">(</text><path transform="translate(255.69,0) scale(1,-1)" d="M39.8,0 H26.1 V51.9 C21.1,47.2 15.2,43.7 8.4,41.4 V53.9 C12,55.1 15.9,57.3 20.1,60.6 C24.3,63.9 27.2,67.7 28.7,71.6 H39.8 Z"/><text x="311.30" y="0" font-family="Liberation Sans" font-weight="700" font-size="100">0</text><text x="366.91" y="0" font-family="Liberation Sans" font-weight="700" font-size="100">2</text><text x="422.52" y="0" font-family="Liberation Sans" font-weight="700" font-size="100">)</text></g>
<text transform="translate(325.49,192.89) scale(0.9989788216489812,1)" font-family="Liberation Sans" font-weight="700" font-size="20.2" fill="#000" >(200)</text>
<g transform="translate(367.16,171.99) scale(0.2087,0.2020)" fill="#000"><text x="0.00" y="0" font-family="Liberation Sans" font-weight="700" font-size="100">(</text><path transform="translate(33.30,0) scale(1,-1)" d="M39.8,0 H26.1 V51.9 C21.1,47.2 15.2,43.7 8.4,41.4 V53.9 C12,55.1 15.9,57.3 20.1,60.6 C24.3,63.9 27.2,67.7 28.7,71.6 H39.8 Z"/><path transform="translate(83.39,0) scale(1,-1)" d="M39.8,0 H26.1 V51.9 C21.1,47.2 15.2,43.7 8.4,41.4 V53.9 C12,55.1 15.9,57.3 20.1,60.6 C24.3,63.9 27.2,67.7 28.7,71.6 H39.8 Z"/><text x="139.00" y="0" font-family="Liberation Sans" font-weight="700" font-size="100">0</text><text x="194.61" y="0" font-family="Liberation Sans" font-weight="700" font-size="100">)</text></g>
<g transform="translate(388.21,202.69) scale(0.1987,0.2020)" fill="#000"><text x="0.00" y="0" font-family="Liberation Sans" font-weight="700" font-size="100">(</text><path transform="translate(33.30,0) scale(1,-1)" d="M39.8,0 H26.1 V51.9 C21.1,47.2 15.2,43.7 8.4,41.4 V53.9 C12,55.1 15.9,57.3 20.1,60.6 C24.3,63.9 27.2,67.7 28.7,71.6 H39.8 Z"/><text x="88.91" y="0" font-family="Liberation Sans" font-weight="700" font-size="100">0</text><text x="144.52" y="0" font-family="Liberation Sans" font-weight="700" font-size="100">3</text><text x="200.12" y="0" font-family="Liberation Sans" font-weight="700" font-size="100">)</text></g>
<g transform="translate(420.84,224.79) scale(0.2110,0.2020)" fill="#000"><text x="0.00" y="0" font-family="Liberation Sans" font-weight="700" font-size="100">(</text><path transform="translate(33.30,0) scale(1,-1)" d="M39.8,0 H26.1 V51.9 C21.1,47.2 15.2,43.7 8.4,41.4 V53.9 C12,55.1 15.9,57.3 20.1,60.6 C24.3,63.9 27.2,67.7 28.7,71.6 H39.8 Z"/><path transform="translate(83.39,0) scale(1,-1)" d="M39.8,0 H26.1 V51.9 C21.1,47.2 15.2,43.7 8.4,41.4 V53.9 C12,55.1 15.9,57.3 20.1,60.6 C24.3,63.9 27.2,67.7 28.7,71.6 H39.8 Z"/><text x="139.00" y="0" font-family="Liberation Sans" font-weight="700" font-size="100">2</text><text x="194.61" y="0" font-family="Liberation Sans" font-weight="700" font-size="100">)</text></g>
<text transform="translate(480.40,217.29) scale(0.9900990099009908,1)" font-family="Liberation Sans" font-weight="700" font-size="20.2" fill="#000" >(220)</text>
<g transform="translate(565.16,198.89) scale(0.2083,0.2020)" fill="#000"><text x="0.00" y="0" font-family="Liberation Sans" font-weight="700" font-size="100">(</text><text x="33.30" y="0" font-family="Liberation Sans" font-weight="700" font-size="100">3</text><path transform="translate(88.91,0) scale(1,-1)" d="M39.8,0 H26.1 V51.9 C21.1,47.2 15.2,43.7 8.4,41.4 V53.9 C12,55.1 15.9,57.3 20.1,60.6 C24.3,63.9 27.2,67.7 28.7,71.6 H39.8 Z"/><path transform="translate(139.00,0) scale(1,-1)" d="M39.8,0 H26.1 V51.9 C21.1,47.2 15.2,43.7 8.4,41.4 V53.9 C12,55.1 15.9,57.3 20.1,60.6 C24.3,63.9 27.2,67.7 28.7,71.6 H39.8 Z"/><text x="194.61" y="0" font-family="Liberation Sans" font-weight="700" font-size="100">)</text></g>
<g transform="translate(123.60,74.20)"><path d="M0,0 Q-0.51,-2.28 -1.41,-4.15 A1.45,1.45 0 1,1 1.41,-4.15 Q0.51,-2.28 0,0 Z" transform="rotate(0)"/><path d="M0,0 Q-0.51,-2.39 -1.41,-4.35 A1.45,1.45 0 1,1 1.41,-4.35 Q0.51,-2.39 0,0 Z" transform="rotate(79)"/><path d="M0,0 Q-0.51,-2.50 -1.41,-4.55 A1.45,1.45 0 1,1 1.41,-4.55 Q0.51,-2.50 0,0 Z" transform="rotate(146)"/><path d="M0,0 Q-0.51,-2.50 -1.41,-4.55 A1.45,1.45 0 1,1 1.41,-4.55 Q0.51,-2.50 0,0 Z" transform="rotate(214)"/><path d="M0,0 Q-0.51,-2.39 -1.41,-4.35 A1.45,1.45 0 1,1 1.41,-4.35 Q0.51,-2.39 0,0 Z" transform="rotate(281)"/><circle r="0.6"/></g>
<g transform="translate(223.80,97.60)"><path d="M0,0 Q-0.51,-2.28 -1.41,-4.15 A1.45,1.45 0 1,1 1.41,-4.15 Q0.51,-2.28 0,0 Z" transform="rotate(0)"/><path d="M0,0 Q-0.51,-2.39 -1.41,-4.35 A1.45,1.45 0 1,1 1.41,-4.35 Q0.51,-2.39 0,0 Z" transform="rotate(79)"/><path d="M0,0 Q-0.51,-2.50 -1.41,-4.55 A1.45,1.45 0 1,1 1.41,-4.55 Q0.51,-2.50 0,0 Z" transform="rotate(146)"/><path d="M0,0 Q-0.51,-2.50 -1.41,-4.55 A1.45,1.45 0 1,1 1.41,-4.55 Q0.51,-2.50 0,0 Z" transform="rotate(214)"/><path d="M0,0 Q-0.51,-2.39 -1.41,-4.35 A1.45,1.45 0 1,1 1.41,-4.35 Q0.51,-2.39 0,0 Z" transform="rotate(281)"/><circle r="0.6"/></g>
<g transform="translate(212.50,152.40)"><path d="M0,0 Q-0.51,-2.28 -1.41,-4.15 A1.45,1.45 0 1,1 1.41,-4.15 Q0.51,-2.28 0,0 Z" transform="rotate(0)"/><path d="M0,0 Q-0.51,-2.39 -1.41,-4.35 A1.45,1.45 0 1,1 1.41,-4.35 Q0.51,-2.39 0,0 Z" transform="rotate(79)"/><path d="M0,0 Q-0.51,-2.50 -1.41,-4.55 A1.45,1.45 0 1,1 1.41,-4.55 Q0.51,-2.50 0,0 Z" transform="rotate(146)"/><path d="M0,0 Q-0.51,-2.50 -1.41,-4.55 A1.45,1.45 0 1,1 1.41,-4.55 Q0.51,-2.50 0,0 Z" transform="rotate(214)"/><path d="M0,0 Q-0.51,-2.39 -1.41,-4.35 A1.45,1.45 0 1,1 1.41,-4.35 Q0.51,-2.39 0,0 Z" transform="rotate(281)"/><circle r="0.6"/></g>
<g transform="translate(245.70,213.20)"><path d="M0,0 Q-0.51,-2.28 -1.41,-4.15 A1.45,1.45 0 1,1 1.41,-4.15 Q0.51,-2.28 0,0 Z" transform="rotate(0)"/><path d="M0,0 Q-0.51,-2.39 -1.41,-4.35 A1.45,1.45 0 1,1 1.41,-4.35 Q0.51,-2.39 0,0 Z" transform="rotate(79)"/><path d="M0,0 Q-0.51,-2.50 -1.41,-4.55 A1.45,1.45 0 1,1 1.41,-4.55 Q0.51,-2.50 0,0 Z" transform="rotate(146)"/><path d="M0,0 Q-0.51,-2.50 -1.41,-4.55 A1.45,1.45 0 1,1 1.41,-4.55 Q0.51,-2.50 0,0 Z" transform="rotate(214)"/><path d="M0,0 Q-0.51,-2.39 -1.41,-4.35 A1.45,1.45 0 1,1 1.41,-4.35 Q0.51,-2.39 0,0 Z" transform="rotate(281)"/><circle r="0.6"/></g>
<g transform="translate(315.30,175.70)"><path d="M0,0 Q-0.51,-2.28 -1.41,-4.15 A1.45,1.45 0 1,1 1.41,-4.15 Q0.51,-2.28 0,0 Z" transform="rotate(0)"/><path d="M0,0 Q-0.51,-2.39 -1.41,-4.35 A1.45,1.45 0 1,1 1.41,-4.35 Q0.51,-2.39 0,0 Z" transform="rotate(79)"/><path d="M0,0 Q-0.51,-2.50 -1.41,-4.55 A1.45,1.45 0 1,1 1.41,-4.55 Q0.51,-2.50 0,0 Z" transform="rotate(146)"/><path d="M0,0 Q-0.51,-2.50 -1.41,-4.55 A1.45,1.45 0 1,1 1.41,-4.55 Q0.51,-2.50 0,0 Z" transform="rotate(214)"/><path d="M0,0 Q-0.51,-2.39 -1.41,-4.35 A1.45,1.45 0 1,1 1.41,-4.35 Q0.51,-2.39 0,0 Z" transform="rotate(281)"/><circle r="0.6"/></g>
<g transform="translate(330.50,221.00)"><path d="M0,0 Q-0.51,-2.28 -1.41,-4.15 A1.45,1.45 0 1,1 1.41,-4.15 Q0.51,-2.28 0,0 Z" transform="rotate(0)"/><path d="M0,0 Q-0.51,-2.39 -1.41,-4.35 A1.45,1.45 0 1,1 1.41,-4.35 Q0.51,-2.39 0,0 Z" transform="rotate(79)"/><path d="M0,0 Q-0.51,-2.50 -1.41,-4.55 A1.45,1.45 0 1,1 1.41,-4.55 Q0.51,-2.50 0,0 Z" transform="rotate(146)"/><path d="M0,0 Q-0.51,-2.50 -1.41,-4.55 A1.45,1.45 0 1,1 1.41,-4.55 Q0.51,-2.50 0,0 Z" transform="rotate(214)"/><path d="M0,0 Q-0.51,-2.39 -1.41,-4.35 A1.45,1.45 0 1,1 1.41,-4.35 Q0.51,-2.39 0,0 Z" transform="rotate(281)"/><circle r="0.6"/></g>
<g transform="translate(382.40,194.70)"><path d="M0,0 Q-0.51,-2.28 -1.41,-4.15 A1.45,1.45 0 1,1 1.41,-4.15 Q0.51,-2.28 0,0 Z" transform="rotate(0)"/><path d="M0,0 Q-0.51,-2.39 -1.41,-4.35 A1.45,1.45 0 1,1 1.41,-4.35 Q0.51,-2.39 0,0 Z" transform="rotate(79)"/><path d="M0,0 Q-0.51,-2.50 -1.41,-4.55 A1.45,1.45 0 1,1 1.41,-4.55 Q0.51,-2.50 0,0 Z" transform="rotate(146)"/><path d="M0,0 Q-0.51,-2.50 -1.41,-4.55 A1.45,1.45 0 1,1 1.41,-4.55 Q0.51,-2.50 0,0 Z" transform="rotate(214)"/><path d="M0,0 Q-0.51,-2.39 -1.41,-4.35 A1.45,1.45 0 1,1 1.41,-4.35 Q0.51,-2.39 0,0 Z" transform="rotate(281)"/><circle r="0.6"/></g>
<g transform="translate(398.40,225.50)"><path d="M0,0 Q-0.51,-2.28 -1.41,-4.15 A1.45,1.45 0 1,1 1.41,-4.15 Q0.51,-2.28 0,0 Z" transform="rotate(0)"/><path d="M0,0 Q-0.51,-2.39 -1.41,-4.35 A1.45,1.45 0 1,1 1.41,-4.35 Q0.51,-2.39 0,0 Z" transform="rotate(79)"/><path d="M0,0 Q-0.51,-2.50 -1.41,-4.55 A1.45,1.45 0 1,1 1.41,-4.55 Q0.51,-2.50 0,0 Z" transform="rotate(146)"/><path d="M0,0 Q-0.51,-2.50 -1.41,-4.55 A1.45,1.45 0 1,1 1.41,-4.55 Q0.51,-2.50 0,0 Z" transform="rotate(214)"/><path d="M0,0 Q-0.51,-2.39 -1.41,-4.35 A1.45,1.45 0 1,1 1.41,-4.35 Q0.51,-2.39 0,0 Z" transform="rotate(281)"/><circle r="0.6"/></g>
<g transform="translate(439.00,237.80)"><path d="M0,0 Q-0.51,-2.28 -1.41,-4.15 A1.45,1.45 0 1,1 1.41,-4.15 Q0.51,-2.28 0,0 Z" transform="rotate(0)"/><path d="M0,0 Q-0.51,-2.39 -1.41,-4.35 A1.45,1.45 0 1,1 1.41,-4.35 Q0.51,-2.39 0,0 Z" transform="rotate(79)"/><path d="M0,0 Q-0.51,-2.50 -1.41,-4.55 A1.45,1.45 0 1,1 1.41,-4.55 Q0.51,-2.50 0,0 Z" transform="rotate(146)"/><path d="M0,0 Q-0.51,-2.50 -1.41,-4.55 A1.45,1.45 0 1,1 1.41,-4.55 Q0.51,-2.50 0,0 Z" transform="rotate(214)"/><path d="M0,0 Q-0.51,-2.39 -1.41,-4.35 A1.45,1.45 0 1,1 1.41,-4.35 Q0.51,-2.39 0,0 Z" transform="rotate(281)"/><circle r="0.6"/></g>
<g transform="translate(549.60,241.90)"><path d="M0,0 Q-0.51,-2.28 -1.41,-4.15 A1.45,1.45 0 1,1 1.41,-4.15 Q0.51,-2.28 0,0 Z" transform="rotate(0)"/><path d="M0,0 Q-0.51,-2.39 -1.41,-4.35 A1.45,1.45 0 1,1 1.41,-4.35 Q0.51,-2.39 0,0 Z" transform="rotate(79)"/><path d="M0,0 Q-0.51,-2.50 -1.41,-4.55 A1.45,1.45 0 1,1 1.41,-4.55 Q0.51,-2.50 0,0 Z" transform="rotate(146)"/><path d="M0,0 Q-0.51,-2.50 -1.41,-4.55 A1.45,1.45 0 1,1 1.41,-4.55 Q0.51,-2.50 0,0 Z" transform="rotate(214)"/><path d="M0,0 Q-0.51,-2.39 -1.41,-4.35 A1.45,1.45 0 1,1 1.41,-4.35 Q0.51,-2.39 0,0 Z" transform="rotate(281)"/><circle r="0.6"/></g>
<path d="M292.50,167.80 L288.50,186.30 M298.70,167.80 L294.60,186.30 M287.00,174.40 H300.00 M287.00,180.00 H300.00" stroke="#000" stroke-width="1.7" fill="none"/>
<path d="M343.50,195.20 L339.50,213.70 M349.70,195.20 L345.60,213.70 M338.00,201.80 H351.00 M338.00,207.40 H351.00" stroke="#000" stroke-width="1.7" fill="none"/>
<path d="M504.20,230.00 L500.20,248.50 M510.40,230.00 L506.30,248.50 M498.70,236.60 H511.70 M498.70,242.20 H511.70" stroke="#000" stroke-width="1.7" fill="none"/>
<path d="M598.30,230.50 L594.30,249.00 M604.50,230.50 L600.40,249.00 M592.80,237.10 H605.80 M592.80,242.70 H605.80" stroke="#000" stroke-width="1.7" fill="none"/>
<text x="66.10" y="506.93" font-family="Liberation Serif" font-weight="700" font-size="25.2" fill="#000" >10</text>
<text x="143.09" y="506.93" font-family="Liberation Serif" font-weight="700" font-size="25.2" fill="#000" >20</text>
<text x="219.57" y="506.93" font-family="Liberation Serif" font-weight="700" font-size="25.2" fill="#000" >30</text>
<text x="296.44" y="506.93" font-family="Liberation Serif" font-weight="700" font-size="25.2" fill="#000" >40</text>
<text x="372.54" y="506.93" font-family="Liberation Serif" font-weight="700" font-size="25.2" fill="#000" >50</text>
<text x="449.15" y="506.93" font-family="Liberation Serif" font-weight="700" font-size="25.2" fill="#000" >60</text>
<text x="525.26" y="506.93" font-family="Liberation Serif" font-weight="700" font-size="25.2" fill="#000" >70</text>
<text x="602.13" y="506.93" font-family="Liberation Serif" font-weight="700" font-size="25.2" fill="#000" >80</text>
<text x="265.7" y="538" font-family="Liberation Serif" font-weight="700" font-size="25.2">2</text>
<text transform="translate(278.5,537.8) scale(1.03,0.925)" font-family="Liberation Serif" font-weight="400" font-size="25.2" stroke="#000" stroke-width="0.7">θ</text>
<text x="297.5" y="538" font-family="Liberation Serif" font-weight="700" font-size="25.2">(Degree)</text>
<text transform="translate(21.7,327.5) rotate(-90)" x="0" y="0" font-family="Liberation Serif" font-weight="700" font-size="25.6" fill="#000">Intensity (a.u.)</text>
</svg>
</body></html>
